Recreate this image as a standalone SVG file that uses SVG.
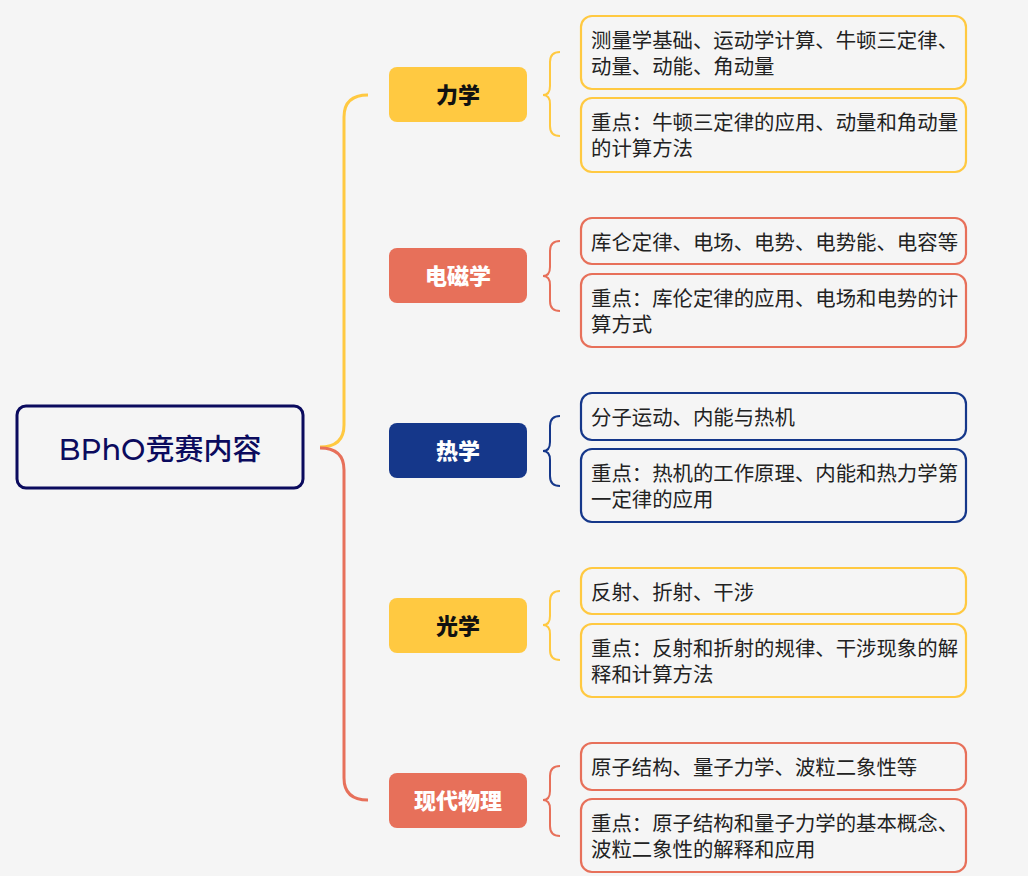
<svg xmlns="http://www.w3.org/2000/svg" width="1028" height="876" viewBox="0 0 1028 876">
<style>
.bg{fill:#F5F5F5}
.ct{font-family:"Noto Sans CJK SC","Noto Sans",sans-serif;font-weight:900;font-size:22px;text-anchor:middle}
.leaf{fill:#F5F5F5;stroke-width:2.2}
.lt{font-family:"Noto Sans CJK SC","Noto Sans",sans-serif;font-size:20.4px;fill:#222}
.br{fill:none;stroke-width:2}
.conn{fill:none;stroke-width:3}
.y{stroke:#FFC941}
.r{stroke:#E7705A}
.b{stroke:#15378A}
</style>
<rect width="1028" height="876" class="bg"/>
<g id="connectors">
<path class="conn y" d="M320,447 Q344,447 344,425 V117 Q344,95 368,95"/>
<path class="conn r" d="M320,448 Q344,448 344,470 V778 Q344,800 368,800"/>
<path class="br y" d="M560,52 Q550,52 550,62 V86 Q550,95 543,95 Q550,95 550,104 V126 Q550,136 560,136"/>
<path class="br r" d="M560,241 Q550,241 550,251 V267 Q550,276 543,276 Q550,276 550,285 V301 Q550,311 560,311"/>
<path class="br b" d="M560,416 Q550,416 550,426 V442 Q550,451 543,451 Q550,451 550,460 V476 Q550,486 560,486"/>
<path class="br y" d="M560,591 Q550,591 550,601 V616 Q550,625 543,625 Q550,625 550,634 V650 Q550,660 560,660"/>
<path class="br r" d="M560,766 Q550,766 550,776 V791 Q550,800 543,800 Q550,800 550,809 V826 Q550,836 560,836"/>
</g>
<g id="root">
<rect x="17" y="406" width="286" height="82" rx="9" fill="#F5F5F5" stroke="#0B0B5E" stroke-width="3"/>
<text x="160" y="460" font-family="Montserrat,'Noto Sans CJK SC','Noto Sans',sans-serif" font-size="29" font-weight="500" fill="#0B0B5E" text-anchor="middle">BPhO竞赛内容</text>
</g>
<g id="n-lixue">
<rect x="389" y="67" width="138" height="55" rx="8" fill="#FFC941"/>
<text x="458" y="103" class="ct" fill="#111">力学</text>
</g>
<g id="n-lixue-a">
<rect class="leaf y" x="581" y="16" width="385" height="73" rx="11"/>
<text class="lt" x="591" y="48">测量学基础、运动学计算、牛顿三定律、</text>
<text class="lt" x="591" y="74">动量、动能、角动量</text>
</g>
<g id="n-lixue-b">
<rect class="leaf y" x="581" y="98" width="385" height="74" rx="11"/>
<text class="lt" x="591" y="130">重点：牛顿三定律的应用、动量和角动量</text>
<text class="lt" x="591" y="156">的计算方法</text>
</g>
<g id="n-dianci">
<rect x="389" y="248" width="138" height="55" rx="8" fill="#E7705A"/>
<text x="458" y="284" class="ct" fill="#fff">电磁学</text>
</g>
<g id="n-dianci-a">
<rect class="leaf r" x="581" y="218" width="385" height="46" rx="11"/>
<text class="lt" x="591" y="250">库仑定律、电场、电势、电势能、电容等</text>
</g>
<g id="n-dianci-b">
<rect class="leaf r" x="581" y="274" width="385" height="73" rx="11"/>
<text class="lt" x="591" y="306">重点：库伦定律的应用、电场和电势的计</text>
<text class="lt" x="591" y="332">算方式</text>
</g>
<g id="n-rexue">
<rect x="389" y="423" width="138" height="55" rx="8" fill="#15378A"/>
<text x="458" y="459" class="ct" fill="#fff">热学</text>
</g>
<g id="n-rexue-a">
<rect class="leaf b" x="581" y="393" width="385" height="47" rx="11"/>
<text class="lt" x="591" y="425">分子运动、内能与热机</text>
</g>
<g id="n-rexue-b">
<rect class="leaf b" x="581" y="449" width="385" height="73" rx="11"/>
<text class="lt" x="591" y="481">重点：热机的工作原理、内能和热力学第</text>
<text class="lt" x="591" y="507">一定律的应用</text>
</g>
<g id="n-guangxue">
<rect x="389" y="598" width="138" height="55" rx="8" fill="#FFC941"/>
<text x="458" y="634" class="ct" fill="#111">光学</text>
</g>
<g id="n-guangxue-a">
<rect class="leaf y" x="581" y="568" width="385" height="46" rx="11"/>
<text class="lt" x="591" y="600">反射、折射、干涉</text>
</g>
<g id="n-guangxue-b">
<rect class="leaf y" x="581" y="624" width="385" height="73" rx="11"/>
<text class="lt" x="591" y="656">重点：反射和折射的规律、干涉现象的解</text>
<text class="lt" x="591" y="682">释和计算方法</text>
</g>
<g id="n-xiandai">
<rect x="389" y="773" width="138" height="55" rx="8" fill="#E7705A"/>
<text x="458" y="809" class="ct" fill="#fff">现代物理</text>
</g>
<g id="n-xiandai-a">
<rect class="leaf r" x="581" y="743" width="385" height="47" rx="11"/>
<text class="lt" x="591" y="775">原子结构、量子力学、波粒二象性等</text>
</g>
<g id="n-xiandai-b">
<rect class="leaf r" x="581" y="799" width="385" height="73" rx="11"/>
<text class="lt" x="591" y="831">重点：原子结构和量子力学的基本概念、</text>
<text class="lt" x="591" y="857">波粒二象性的解释和应用</text>
</g>
</svg>
